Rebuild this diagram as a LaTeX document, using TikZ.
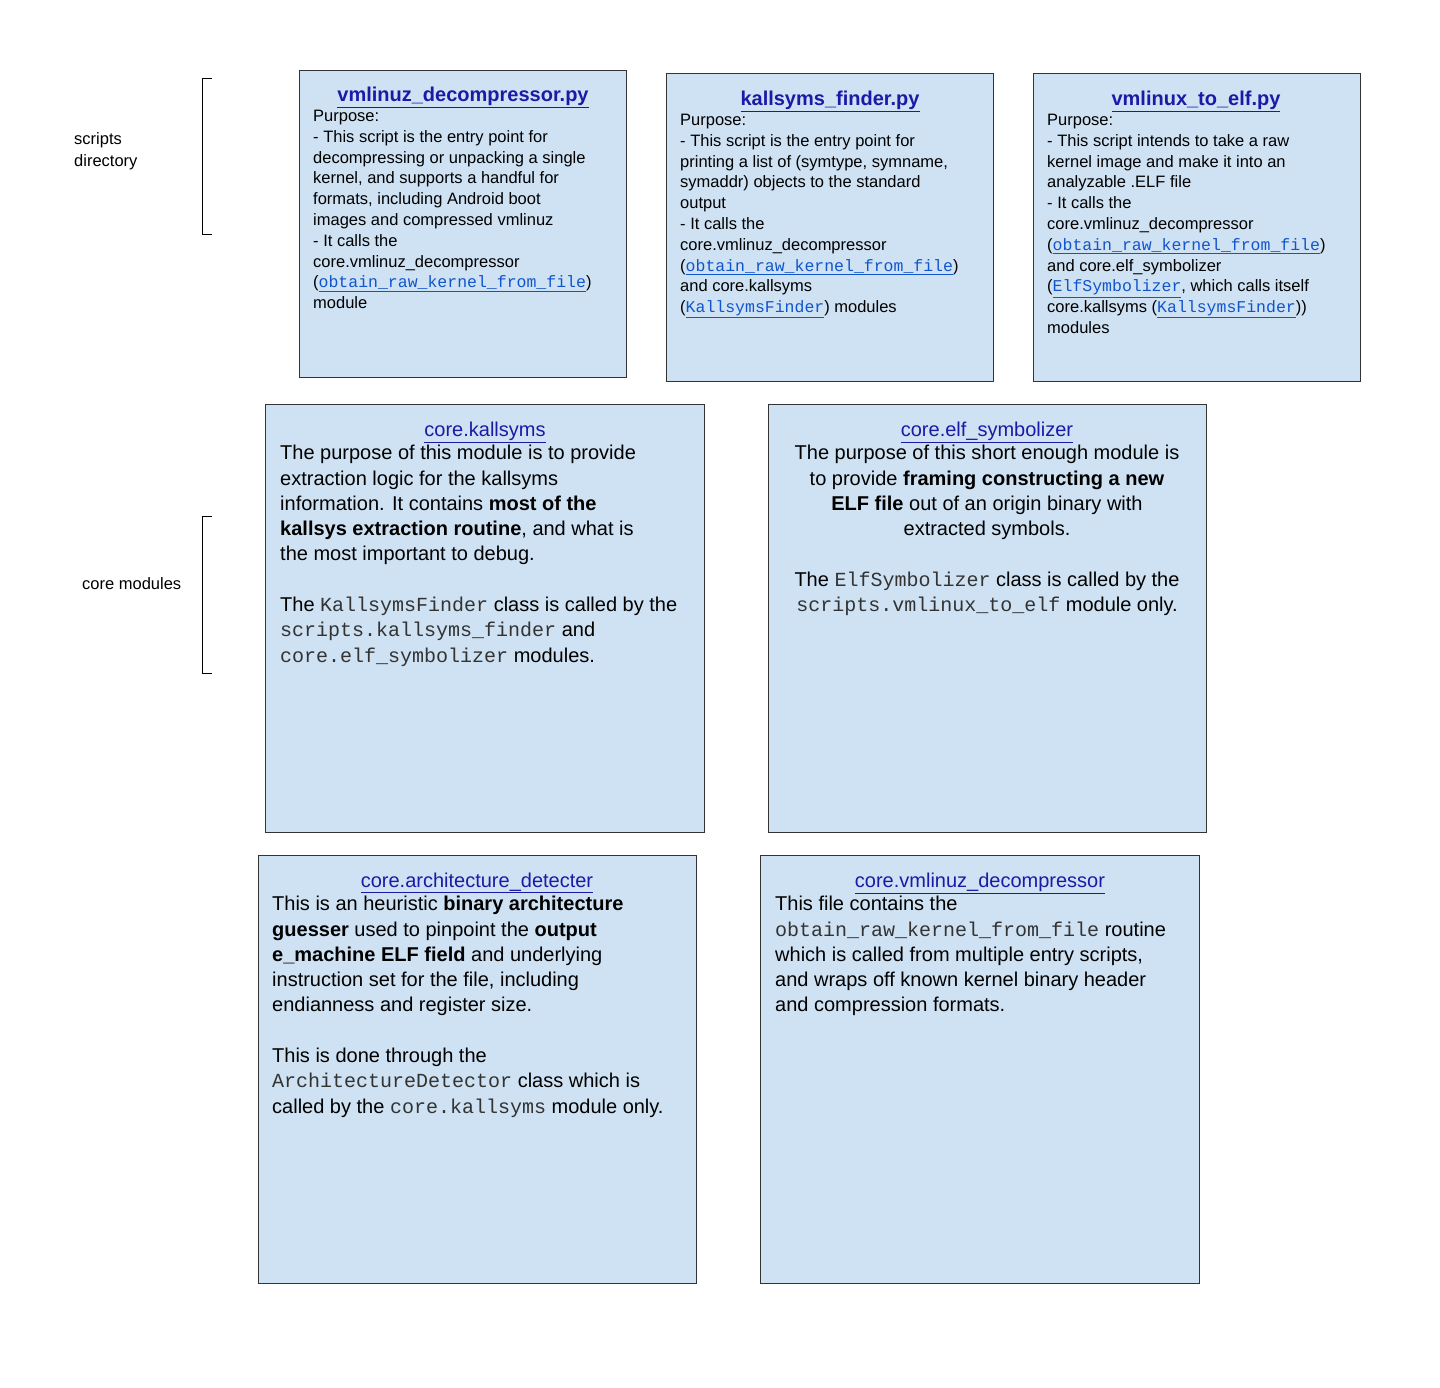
\documentclass[tikz,border=0pt]{standalone}
\usepackage{fontspec}
\setmainfont{Liberation Sans}
\setmonofont{Liberation Mono}
\usetikzlibrary{positioning}
\definecolor{boxfill}{HTML}{CFE2F3}
\definecolor{linkblue}{HTML}{1155CC}
\definecolor{titleblue}{HTML}{1A1AA6}
\definecolor{codegray}{HTML}{333333}
\newcommand{\lnk}[1]{{\color{linkblue}\underline{\ttfamily #1}}}
\newcommand{\code}[1]{{\color{codegray}\ttfamily #1}}
\tikzset{
  modbox/.style={draw=black!80, line width=0.9pt, fill=boxfill},
  toptitle/.style={anchor=center, inner sep=0, font=\fontsize{20}{24}\selectfont\bfseries, text=titleblue},
  bigtitle/.style={anchor=center, inner sep=0, font=\fontsize{20}{24}\selectfont, text=titleblue},
  toptext/.style={anchor=north west, inner sep=0, align=left, font=\fontsize{16.5}{20.8}\selectfont},
  bigtext/.style={anchor=north west, inner sep=0, align=left, font=\fontsize{20}{25.3}\selectfont},
  sidelabel/.style={anchor=west, inner sep=0, align=left, font=\fontsize{16.5}{21.5}\selectfont},
}
\begin{document}
\begin{tikzpicture}[x=1pt, y=-1pt]
\useasboundingbox (0,0) rectangle (1440,1387);

% Accolades de gauche
\draw[line width=0.8pt] (212,78) -- (202,78) -- (202,234) -- (212,234);
\draw[line width=0.8pt] (212,516) -- (202,516) -- (202,673) -- (212,673);
\node[sidelabel] (lblscripts) at (74,151) {scripts\\directory};
\node[sidelabel] (lblcore) at (82,584) {core modules};

% Scripts
\draw[modbox] (299,70) rectangle (626,377);
\node[toptitle] (t1) at (463,97) {\underline{vmlinuz\_decompressor.py}};
\node[toptext] (b1) at (313,110) {Purpose:\\
- This script is the entry point for\\
decompressing or unpacking a single\\
kernel, and supports a handful for\\
formats, including Android boot\\
images and compressed vmlinuz\\
- It calls the\\
core.vmlinuz\_decompressor\\
(\lnk{obtain\_raw\_kernel\_from\_file})\\
module};

\draw[modbox] (666,73) rectangle (993,381);
\node[toptitle] (t2) at (830,101) {\underline{kallsyms\_finder.py}};
\node[toptext] (b2) at (680,114) {Purpose:\\
- This script is the entry point for\\
printing a list of (symtype, symname,\\
symaddr) objects to the standard\\
output\\
- It calls the\\
core.vmlinuz\_decompressor\\
(\lnk{obtain\_raw\_kernel\_from\_file})\\
and core.kallsyms\\
(\lnk{KallsymsFinder}) modules};

\draw[modbox] (1033,73) rectangle (1360,381);
\node[toptitle] (t3) at (1196,101) {\underline{vmlinux\_to\_elf.py}};
\node[toptext] (b3) at (1047,114) {Purpose:\\
- This script intends to take a raw\\
kernel image and make it into an\\
analyzable .ELF file\\
- It calls the\\
core.vmlinuz\_decompressor\\
(\lnk{obtain\_raw\_kernel\_from\_file})\\
and core.elf\_symbolizer\\
(\lnk{ElfSymbolizer}, which calls itself\\
core.kallsyms (\lnk{KallsymsFinder}))\\
modules};

% Modules core
\draw[modbox] (265,404) rectangle (704,832);
\node[bigtitle] (t4) at (485,432) {\underline{core.kallsyms}};
\node[bigtext] (b4) at (280,445) {The purpose of this module is to provide\\
extraction logic for the kallsyms\\
information. It contains \textbf{most of the}\\
\textbf{kallsys extraction routine}, and what is\\
the most important to debug.\\[25.3pt]
The \code{KallsymsFinder} class is called by the\\
\code{scripts.kallsyms\_finder} and\\
\code{core.elf\_symbolizer} modules.};

\draw[modbox] (768,404) rectangle (1206,832);
\node[bigtitle] (t5) at (987,432) {\underline{core.elf\_symbolizer}};
\node[bigtext, anchor=north, align=center] (b5) at (987,445) {The purpose of this short enough module is\\
to provide \textbf{framing constructing a new}\\
\textbf{ELF file} out of an origin binary with\\
extracted symbols.\\[25.3pt]
The \code{ElfSymbolizer} class is called by the\\
\code{scripts.vmlinux\_to\_elf} module only.};

\draw[modbox] (258,855) rectangle (696,1283);
\node[bigtitle] (t6) at (477,883) {\underline{core.architecture\_detecter}};
\node[bigtext] (b6) at (272,896) {This is an heuristic \textbf{binary architecture}\\
\textbf{guesser} used to pinpoint the \textbf{output}\\
\textbf{e\_machine ELF field} and underlying\\
instruction set for the file, including\\
endianness and register size.\\[25.3pt]
This is done through the\\
\code{ArchitectureDetector} class which is\\
called by the \code{core.kallsyms} module only.};

\draw[modbox] (760,855) rectangle (1199,1283);
\node[bigtitle] (t7) at (980,883) {\underline{core.vmlinuz\_decompressor}};
\node[bigtext] (b7) at (775,896) {This file contains the\\
\code{obtain\_raw\_kernel\_from\_file} routine\\
which is called from multiple entry scripts,\\
and wraps off known kernel binary header\\
and compression formats.};
\end{tikzpicture}
\end{document}
